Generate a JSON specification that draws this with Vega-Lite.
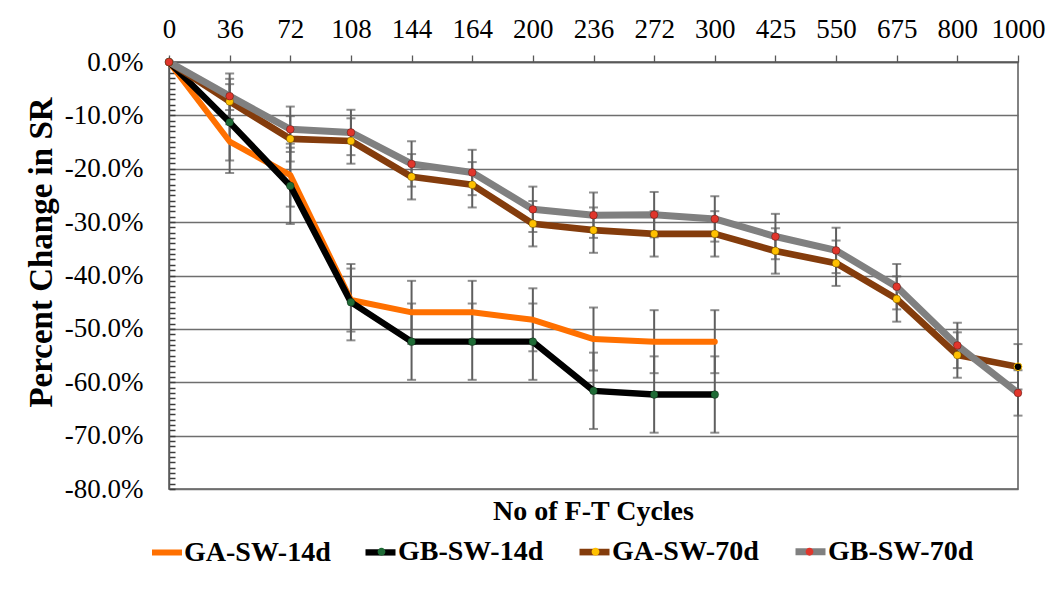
{
  "$schema": "https://vega.github.io/schema/vega-lite/v6.json",
  "width": 849,
  "height": 427,
  "autosize": {"type": "none"},
  "padding": {"left": 169, "top": 62, "right": 41, "bottom": 103},
  "background": "white",
  "config": {
    "locale": {"number": {"decimal": ".", "thousands": ",", "grouping": [3], "currency": ["$", ""], "minus": "-"}},
    "view": {"stroke": "#595959", "strokeWidth": 1.5},
    "font": "Liberation Serif"
  },
  "title": {
    "text": "No of F-T Cycles",
    "orient": "bottom",
    "anchor": "middle",
    "frame": "group",
    "font": "Liberation Serif",
    "fontSize": 28,
    "fontWeight": "bold",
    "color": "black",
    "offset": -83
  },
  "data": {
    "values": [
      {"cycles": "0", "series": "GA-SW-14d", "change": 0, "err": 0},
      {"cycles": "36", "series": "GA-SW-14d", "change": -0.149, "err": 0.059},
      {"cycles": "72", "series": "GA-SW-14d", "change": -0.212, "err": 0.059},
      {"cycles": "108", "series": "GA-SW-14d", "change": -0.446, "err": 0.059},
      {"cycles": "144", "series": "GA-SW-14d", "change": -0.469, "err": 0.059},
      {"cycles": "164", "series": "GA-SW-14d", "change": -0.469, "err": 0.059},
      {"cycles": "200", "series": "GA-SW-14d", "change": -0.483, "err": 0.059},
      {"cycles": "236", "series": "GA-SW-14d", "change": -0.519, "err": 0.059},
      {"cycles": "272", "series": "GA-SW-14d", "change": -0.524, "err": 0.059},
      {"cycles": "300", "series": "GA-SW-14d", "change": -0.524, "err": 0.059},

      {"cycles": "0", "series": "GB-SW-14d", "change": 0, "err": 0},
      {"cycles": "36", "series": "GB-SW-14d", "change": -0.113, "err": 0.0715},
      {"cycles": "72", "series": "GB-SW-14d", "change": -0.232, "err": 0.0715},
      {"cycles": "108", "series": "GB-SW-14d", "change": -0.450, "err": 0.0715},
      {"cycles": "144", "series": "GB-SW-14d", "change": -0.524, "err": 0.0715},
      {"cycles": "164", "series": "GB-SW-14d", "change": -0.524, "err": 0.0715},
      {"cycles": "200", "series": "GB-SW-14d", "change": -0.524, "err": 0.0715},
      {"cycles": "236", "series": "GB-SW-14d", "change": -0.616, "err": 0.0715},
      {"cycles": "272", "series": "GB-SW-14d", "change": -0.623, "err": 0.0715},
      {"cycles": "300", "series": "GB-SW-14d", "change": -0.623, "err": 0.0715},

      {"cycles": "0", "series": "GA-SW-70d", "change": 0, "err": 0},
      {"cycles": "36", "series": "GA-SW-70d", "change": -0.074, "err": 0.0425},
      {"cycles": "72", "series": "GA-SW-70d", "change": -0.144, "err": 0.0425},
      {"cycles": "108", "series": "GA-SW-70d", "change": -0.148, "err": 0.0425},
      {"cycles": "144", "series": "GA-SW-70d", "change": -0.215, "err": 0.0425},
      {"cycles": "164", "series": "GA-SW-70d", "change": -0.230, "err": 0.0425},
      {"cycles": "200", "series": "GA-SW-70d", "change": -0.303, "err": 0.0425},
      {"cycles": "236", "series": "GA-SW-70d", "change": -0.315, "err": 0.0425},
      {"cycles": "272", "series": "GA-SW-70d", "change": -0.322, "err": 0.0425},
      {"cycles": "300", "series": "GA-SW-70d", "change": -0.322, "err": 0.0425},
      {"cycles": "425", "series": "GA-SW-70d", "change": -0.354, "err": 0.0425},
      {"cycles": "550", "series": "GA-SW-70d", "change": -0.377, "err": 0.0425},
      {"cycles": "675", "series": "GA-SW-70d", "change": -0.444, "err": 0.0425},
      {"cycles": "800", "series": "GA-SW-70d", "change": -0.549, "err": 0.0425},
      {"cycles": "1000", "series": "GA-SW-70d", "change": -0.571, "err": 0.0425},

      {"cycles": "0", "series": "GB-SW-70d", "change": 0, "err": 0},
      {"cycles": "36", "series": "GB-SW-70d", "change": -0.064, "err": 0.0425},
      {"cycles": "72", "series": "GB-SW-70d", "change": -0.126, "err": 0.0425},
      {"cycles": "108", "series": "GB-SW-70d", "change": -0.132, "err": 0.0425},
      {"cycles": "144", "series": "GB-SW-70d", "change": -0.191, "err": 0.0425},
      {"cycles": "164", "series": "GB-SW-70d", "change": -0.207, "err": 0.0425},
      {"cycles": "200", "series": "GB-SW-70d", "change": -0.276, "err": 0.0425},
      {"cycles": "236", "series": "GB-SW-70d", "change": -0.287, "err": 0.0425},
      {"cycles": "272", "series": "GB-SW-70d", "change": -0.286, "err": 0.0425},
      {"cycles": "300", "series": "GB-SW-70d", "change": -0.294, "err": 0.0425},
      {"cycles": "425", "series": "GB-SW-70d", "change": -0.327, "err": 0.0425},
      {"cycles": "550", "series": "GB-SW-70d", "change": -0.353, "err": 0.0425},
      {"cycles": "675", "series": "GB-SW-70d", "change": -0.421, "err": 0.0425},
      {"cycles": "800", "series": "GB-SW-70d", "change": -0.531, "err": 0.0425},
      {"cycles": "1000", "series": "GB-SW-70d", "change": -0.620, "err": 0.0425}
    ]
  },
  "encoding": {
    "x": {
      "field": "cycles",
      "type": "ordinal",
      "sort": ["0", "36", "72", "108", "144", "164", "200", "236", "272", "300", "425", "550", "675", "800", "1000"],
      "scale": {"type": "point", "padding": 0},
      "axis": {
        "orient": "top",
        "title": null,
        "labelAngle": 0,
        "labelFont": "Liberation Serif",
        "labelFontSize": 27,
        "labelColor": "black",
        "labelPadding": 12,
        "tickSize": 7,
        "tickColor": "#595959",
        "tickWidth": 1.3,
        "domainColor": "#595959",
        "domainWidth": 1.5,
        "grid": false
      }
    },
    "y": {
      "field": "change",
      "type": "quantitative",
      "scale": {"domain": [-0.8, 0], "nice": false, "zero": false},
      "axis": {
        "orient": "left",
        "title": "Percent Change in SR",
        "values": [0, -0.01, -0.02, -0.03, -0.04, -0.05, -0.06, -0.07, -0.08, -0.09,
                   -0.1, -0.11, -0.12, -0.13, -0.14, -0.15, -0.16, -0.17, -0.18, -0.19,
                   -0.2, -0.21, -0.22, -0.23, -0.24, -0.25, -0.26, -0.27, -0.28, -0.29,
                   -0.3, -0.31, -0.32, -0.33, -0.34, -0.35, -0.36, -0.37, -0.38, -0.39,
                   -0.4, -0.41, -0.42, -0.43, -0.44, -0.45, -0.46, -0.47, -0.48, -0.49,
                   -0.5, -0.51, -0.52, -0.53, -0.54, -0.55, -0.56, -0.57, -0.58, -0.59,
                   -0.6, -0.61, -0.62, -0.63, -0.64, -0.65, -0.66, -0.67, -0.68, -0.69,
                   -0.7, -0.71, -0.72, -0.73, -0.74, -0.75, -0.76, -0.77, -0.78, -0.79, -0.8],
        "labelExpr": "abs(datum.value * 10 - round(datum.value * 10)) < 0.001 ? format(datum.value, '.1%') : ''",
        "labelOverlap": false,
        "labelFont": "Liberation Serif",
        "labelFontSize": 27,
        "labelColor": "black",
        "labelPadding": 32,
        "ticks": true,
        "tickSize": -6,
        "tickOpacity": 1,
        "tickColor": "#3c3c3c",
        "tickWidth": 1.5,
        "domainColor": "#595959",
        "domainWidth": 1.5,
        "grid": true,
        "gridColor": "#6e6e6e",
        "gridWidth": 1.3,
        "gridOpacity": {"condition": {"test": "abs(datum.value * 10 - round(datum.value * 10)) < 0.001", "value": 1}, "value": 0},
        "titleFont": "Liberation Serif",
        "titleFontSize": 33,
        "titleFontWeight": "bold",
        "titleColor": "black",
        "titlePadding": 6,
        "titleY": 190
      }
    }
  },
  "layer": [
    {
      "transform": [{"filter": "datum.err > 0"}],
      "mark": {
        "type": "errorbar",
        "color": "#5f5f5f",
        "rule": {"strokeWidth": 2, "color": "#5f5f5f"},
        "ticks": {"size": 9, "thickness": 2, "color": "#5f5f5f"}
      },
      "encoding": {
        "yError": {"field": "err"}
      }
    },
    {
      "mark": {"type": "line", "strokeJoin": "round", "strokeCap": "round"},
      "encoding": {
        "color": {
          "field": "series",
          "type": "nominal",
          "scale": {
            "domain": ["GA-SW-14d", "GB-SW-14d", "GA-SW-70d", "GB-SW-70d"],
            "range": ["#ff7000", "#000000", "#843c0c", "#808080"]
          },
          "legend": {
            "title": null,
            "orient": "none",
            "legendX": -20,
            "legendY": 471,
            "direction": "horizontal",
            "padding": 0,
            "symbolType": "M-1,-1M-1,0L1,0M11.5,1",
            "symbolSize": 900,
            "symbolStrokeWidth": 6.5,
            "labelFont": "Liberation Serif",
            "labelFontSize": 28,
            "labelFontWeight": "bold",
            "labelColor": "black",
            "labelOffset": -1,
            "columnPadding": 0,
            "zindex": 1
          }
        },
        "strokeWidth": {
          "field": "series",
          "type": "ordinal",
          "scale": {
            "domain": ["GA-SW-14d", "GB-SW-14d", "GA-SW-70d", "GB-SW-70d"],
            "range": [6, 7, 7, 8]
          },
          "legend": null
        }
      }
    },
    {
      "transform": [{"filter": "datum.series != 'GA-SW-14d'"}],
      "mark": {"type": "circle", "size": 60, "opacity": 1, "strokeWidth": 1},
      "encoding": {
        "fill": {
          "condition": {"test": "datum.series == 'GA-SW-70d' && datum.cycles == '1000'", "value": "#000000"},
          "field": "series",
          "type": "nominal",
          "scale": {
            "domain": ["GB-SW-14d", "GA-SW-70d", "GB-SW-70d", "GA-SW-14d"],
            "range": ["#1f6b36", "#ffc000", "#e0362c", "rgba(0,0,0,0)"]
          },
          "legend": {
            "values": ["GA-SW-14d", "GB-SW-14d", "GA-SW-70d", "GB-SW-70d"],
            "title": null,
            "orient": "none",
            "legendX": -20,
            "legendY": 471,
            "direction": "horizontal",
            "padding": 0,
            "symbolType": "M-1,-1M11.5,1M0.26,0A0.26,0.26,0,1,1,-0.26,0A0.26,0.26,0,1,1,0.26,0Z",
            "symbolSize": 900,
            "symbolStrokeWidth": 6.5,
            "symbolStrokeColor": "transparent",
            "labelExpr": "''",
            "labelFont": "Liberation Serif",
            "labelFontSize": 28,
            "labelFontWeight": "bold",
            "labelOffset": -1,
            "columnPadding": 0,
            "zindex": 2
          }
        },
        "stroke": {
          "condition": {"test": "datum.series == 'GA-SW-70d' && datum.cycles == '1000'", "value": "#ffc000"},
          "value": "rgba(0,0,0,0.3)"
        }
      }
    }
  ]
}
